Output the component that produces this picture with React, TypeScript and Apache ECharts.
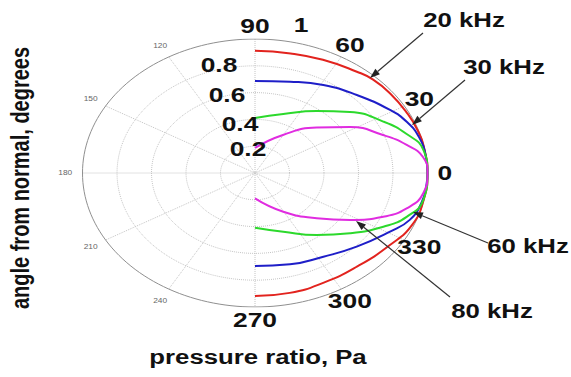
import React, { useEffect, useRef } from "react";
import * as echarts from "echarts";

// ---- data (angle in degrees, radius = pressure ratio) ----
const seriesNames = ["20 kHz", "30 kHz", "60 kHz", "80 kHz"];
const seriesColors = ["#e2231e", "#1e1ec8", "#2cd92c", "#e02ce0"];

const angles20 = [90, 77, 65, 52, 45.5, 37, 27.4, 18.8, 9.8, 0, -11.5, -22.9, -34.5, -49.8, -64, -77.3, -90];
const radii20 = [0.913, 0.916, 0.932, 0.959, 0.977, 0.983, 0.988, 0.995, 0.998, 1.0, 0.998, 0.99, 0.949, 0.915, 0.91, 0.917, 0.918];

const angles30 = [90, 73.4, 58.9, 44.6, 31, 23.5, 15.6, 6.8, 0, -5, -13.2, -21.3, -29.2, -43, -57.6, -73.4, -90];
const radii30 = [0.687, 0.711, 0.767, 0.829, 0.913, 0.959, 0.988, 0.998, 1.0, 0.998, 0.99, 0.963, 0.897, 0.806, 0.74, 0.711, 0.694];

const angles60 = [90, 69.6, 52.3, 39.6, 27.3, 18.3, 10, 0, -11.6, -20.4, -28.3, -39.2, -52.3, -69.5, -90];
const radii60 = [0.41, 0.47, 0.585, 0.715, 0.837, 0.926, 0.991, 1.0, 0.996, 0.938, 0.845, 0.711, 0.585, 0.468, 0.408];

const angles80 = [90, 60.3, 43.5, 31.9, 20.9, 13.4, 7, 0, -8.8, -16.7, -23.7, -32.5, -43.4, -60.4, -90];
const radii80 = [0.187, 0.327, 0.493, 0.649, 0.794, 0.904, 0.981, 1.0, 0.987, 0.918, 0.812, 0.653, 0.492, 0.332, 0.189];

const ringRadii = [0.2, 0.4, 0.6, 0.8];
const spokeAngles = [0, 30, 60, 90, 120, 150];
const bigAngleTicks = [0, 30, 60, 90, 270, 300, 330];
const smallAngleTicks = [120, 150, 180, 210, 240];
const radialTickLabels = ["1", "0.8", "0.6", "0.4", "0.2"];

const xTitle = "pressure ratio, Pa";
const yTitle = "angle from normal, degrees";

const FONT = "Liberation Sans, Arial, Helvetica, sans-serif";
const STRETCH = 1.287; // the figure is stretched horizontally

const rad = (d: number) => (d * Math.PI) / 180;
const toXY = (r: number, deg: number) => [r * Math.cos(rad(deg)), r * Math.sin(rad(deg))];

function arrow(x1: number, y1: number, x2: number, y2: number) {
  const len = 10;
  const hw = 3.5;
  const dx = x2 - x1;
  const dy = y2 - y1;
  const L = Math.sqrt(dx * dx + dy * dy);
  const ux = dx / L;
  const uy = dy / L;
  const bx = x2 - ux * len;
  const by = y2 - uy * len;
  return [
    { type: "line", shape: { x1, y1, x2: bx, y2: by }, style: { stroke: "#333", lineWidth: 1.2 }, z: 20 },
    {
      type: "polygon",
      shape: {
        points: [
          [x2, y2],
          [bx - uy * hw, by + ux * hw],
          [bx + uy * hw, by - ux * hw],
        ],
      },
      style: { fill: "#222" },
      z: 20,
    },
  ];
}

function txt(t: string, x: number, y: number, size: number, opts: any = {}) {
  return {
    type: "text",
    x,
    y,
    scaleX: opts.rotation ? 1 : STRETCH,
    scaleY: opts.rotation ? STRETCH : 1,
    rotation: opts.rotation || 0,
    style: {
      text: t,
      fontFamily: FONT,
      fontWeight: opts.weight || "bold",
      fontSize: size,
      fill: opts.color || "#111",
      align: "center",
      verticalAlign: "middle",
    },
    z: 20,
  };
}

export default function App() {
  const ref = useRef<HTMLDivElement>(null);
  useEffect(() => {
    if (!ref.current) return;
    const chart = echarts.init(ref.current, null, { renderer: "svg" });

    const gridSeries: any[] = [];
    ringRadii.forEach((r) => {
      const pts: number[][] = [];
      for (let a = 0; a <= 360; a += 3) pts.push(toXY(r, a));
      gridSeries.push({
        type: "line",
        data: pts,
        showSymbol: false,
        silent: true,
        lineStyle: { color: "#c4c4c4", width: 1, type: "dotted" },
        z: 1,
      });
    });
    spokeAngles.forEach((a) => {
      gridSeries.push({
        type: "line",
        data: [toXY(1, a), toXY(1, a + 180)],
        showSymbol: false,
        silent: true,
        lineStyle: { color: "#c4c4c4", width: 1, type: "dotted" },
        z: 1,
      });
    });
    {
      const pts: number[][] = [];
      for (let a = 0; a <= 360; a += 2) pts.push(toXY(1, a));
      gridSeries.push({
        type: "line",
        data: pts,
        showSymbol: false,
        silent: true,
        lineStyle: { color: "#8f8f8f", width: 1 },
        z: 2,
      });
    }

    const curves = [
      [angles20, radii20],
      [angles30, radii30],
      [angles60, radii60],
      [angles80, radii80],
    ].map(([angs, rs], i) => ({
      name: seriesNames[i],
      type: "line",
      data: (angs as number[]).map((a, j) => toXY((rs as number[])[j], a)),
      smooth: 0.5,
      showSymbol: false,
      lineStyle: { color: seriesColors[i], width: 2 },
      z: 5,
    }));

    chart.setOption({
      animation: false,
      backgroundColor: "#fff",
      grid: { left: 82.5, top: 39, width: 345, height: 268, outerBoundsMode: "none", containLabel: false },
      xAxis: { type: "value", min: -1, max: 1, show: false },
      yAxis: { type: "value", min: -1, max: 1, show: false },
      series: [...gridSeries, ...curves],
    });

    const px = (r: number, a: number) => chart.convertToPixel({ gridIndex: 0 }, toXY(r, a)) as number[];

    const graphic: any[] = [];
    bigAngleTicks.forEach((a) => {
      const [x, y] = px(1.1, a);
      graphic.push(txt(String(a), x, y, 20.5));
    });
    smallAngleTicks.forEach((a) => {
      const [x, y] = px(1.1, a);
      graphic.push(txt(String(a), x, y, 6.5, { weight: "normal", color: "#666" }));
    });
    const radialPos = [
      [301, 25],
      [219, 65],
      [227, 95],
      [240, 124],
      [248, 149],
    ];
    radialTickLabels.forEach((t, i) => graphic.push(txt(t, radialPos[i][0], radialPos[i][1], 20.5)));
    const freqPos = [
      [464, 20.5],
      [504, 67],
      [528, 246],
      [492, 311],
    ];
    seriesNames.forEach((t, i) => graphic.push(txt(t, freqPos[i][0], freqPos[i][1], 20)));
    graphic.push(...arrow(423, 33, 370, 78));
    graphic.push(...arrow(465, 80, 412, 125));
    graphic.push(...arrow(488, 243, 413, 212));
    graphic.push(...arrow(450, 297, 356, 221));
    graphic.push(txt(xTitle, 258, 357, 20));
    graphic.push(txt(yTitle, 20, 178, 20, { rotation: Math.PI / 2 }));

    chart.setOption({ graphic });
    return () => chart.dispose();
  }, []);
  return (
    <div
      ref={ref}
      style={{ position: "fixed", left: 0, top: 0, width: 571, height: 377, background: "#fff" }}
    />
  );
}
